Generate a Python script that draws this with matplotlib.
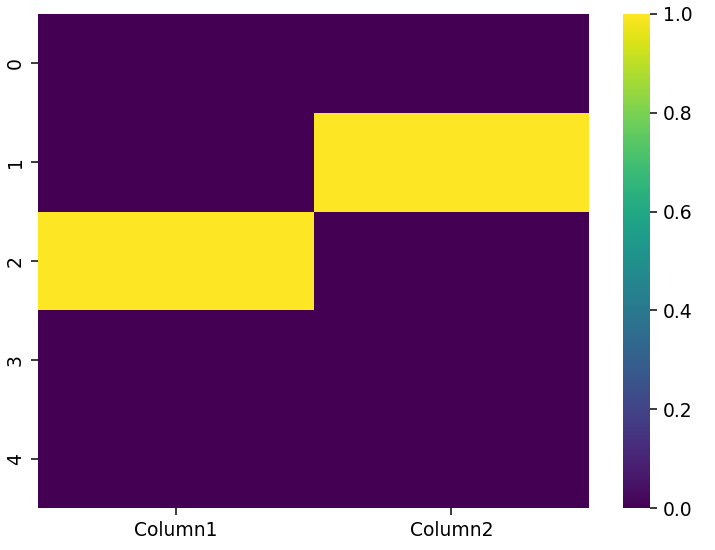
import matplotlib
matplotlib.use('Agg')
import matplotlib.pyplot as plt
import numpy as np
import pandas as pd
import seaborn as sns

# missing-value mask (1 = null)
columns = ['Column1', 'Column2']
col1_null = [0, 0, 1, 0, 0]
col2_null = [0, 1, 0, 0, 0]

df = pd.DataFrame({columns[0]: col1_null, columns[1]: col2_null})

DPI = 135
fig = plt.figure(figsize=(715 / DPI, 550 / DPI), dpi=DPI)
ax = fig.add_axes([0.053, 0.076, 0.771, 0.899])
cax = fig.add_axes([0.871, 0.076, 0.038, 0.899])

sns.heatmap(df, cmap='viridis', ax=ax, cbar_ax=cax, vmin=0, vmax=1)

fig.savefig('out.png', dpi=DPI)
